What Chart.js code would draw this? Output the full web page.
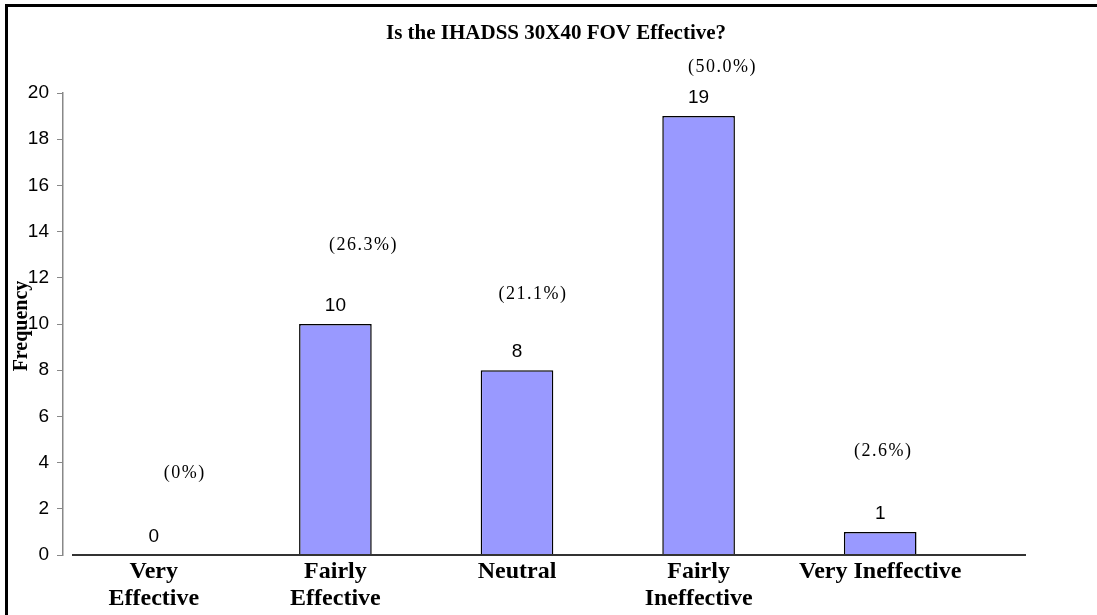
<!DOCTYPE html>
<html>
<head>
<meta charset="utf-8">
<script src="https://cdn.jsdelivr.net/npm/chart.js@4.4.0/dist/chart.umd.min.js"></script>
<style>
  body { margin: 0; background: #fff; }
  canvas { display: block; }
</style>
</head>
<body>
<canvas id="grafico" width="1097" height="615"></canvas>
<script>
const categorias = [["Very", "Effective"], ["Fairly", "Effective"], "Neutral", ["Fairly", "Ineffective"], "Very Ineffective"];
const frequencias = [0, 10, 8, 19, 1];
const percentuais = ["(0%)", "(26.3%)", "(21.1%)", "(50.0%)", "(2.6%)"];
const ticksY = [0, 2, 4, 6, 8, 10, 12, 14, 16, 18, 20];

// onde ficam os rotulos de porcentagem (altura no eixo y, deslocamento em px)
const pctAltura = [3.55, 13.4, 11.3, 21.1, 4.5];
const pctDesloc = [31, 28, 16, 24, 3];

const ctx = document.getElementById("grafico").getContext("2d");

const extras = {
  id: "extras",
  beforeDraw(chart) {
    const c = chart.ctx;
    c.save();
    c.fillStyle = "#fff";
    c.fillRect(0, 0, chart.width, chart.height);
    c.restore();
  },
  afterDraw(chart) {
    const c = chart.ctx;
    const area = chart.chartArea;
    const y = chart.scales.y;
    const meta = chart.getDatasetMeta(0);
    c.save();

    // moldura
    c.fillStyle = "#000";
    c.fillRect(5, 4, chart.width, 3);
    c.fillRect(5, 4, 3, chart.height);

    // eixo x
    c.strokeStyle = "#333";
    c.lineWidth = 2;
    c.beginPath();
    c.moveTo(area.left + 9, area.bottom);
    c.lineTo(area.right + 55, area.bottom);
    c.stroke();

    // titulo
    c.fillStyle = "#000";
    c.font = "bold 21px 'Liberation Serif', 'Times New Roman', serif";
    c.textAlign = "center";
    c.textBaseline = "middle";
    c.fillText("Is the IHADSS 30X40 FOV Effective?", 556, 34);

    // titulo do eixo y
    c.save();
    c.translate(22, 326);
    c.rotate(-Math.PI / 2);
    c.font = "bold 20px 'Liberation Serif', 'Times New Roman', serif";
    c.fillText("Frequency", 0, 0);
    c.restore();

    // valores das barras
    c.font = "19px 'Liberation Sans', Arial, sans-serif";
    c.textBaseline = "bottom";
    meta.data.forEach((bar, i) => {
      c.fillText(String(frequencias[i]), bar.x, bar.y - 9);
    });

    // porcentagens
    c.font = "18px 'Liberation Serif', 'Times New Roman', serif";
    c.letterSpacing = "1.5px";
    c.textBaseline = "middle";
    meta.data.forEach((bar, i) => {
      c.fillText(percentuais[i], bar.x + pctDesloc[i], y.getPixelForValue(pctAltura[i]));
    });
    c.restore();
  }
};

new Chart(ctx, {
  type: "bar",
  data: {
    labels: categorias,
    datasets: [{
      label: "Frequency",
      data: frequencias,
      backgroundColor: "#9999ff",
      borderColor: "#000",
      borderWidth: 1.5,
      barPercentage: 0.4,
      categoryPercentage: 1.0
    }]
  },
  options: {
    responsive: false,
    animation: false,
    layout: { padding: { top: 93, right: 126, bottom: 0, left: 0 } },
    plugins: {
      legend: { display: false },
      title: { display: false },
      tooltip: { enabled: false }
    },
    scales: {
      x: {
        grid: { display: false, drawTicks: false },
        border: { display: false },
        ticks: {
          color: "#000",
          font: { family: "'Liberation Serif', 'Times New Roman', serif", size: 24, weight: "bold", lineHeight: 1.12 },
          padding: 3,
          autoSkip: false,
          maxRotation: 0
        },
        afterFit(scale) { scale.height = 60; }
      },
      y: {
        min: 0,
        max: 20,
        afterBuildTicks(scale) { scale.ticks = ticksY.map(v => ({ value: v })); },
        grid: { drawOnChartArea: false, tickLength: 6, color: "#888" },
        border: { color: "#888", width: 1.5 },
        ticks: {
          color: "#000",
          font: { family: "'Liberation Sans', Arial, sans-serif", size: 19 },
          padding: 8
        },
        afterFit(scale) { scale.width = 63; }
      }
    }
  },
  plugins: [extras]
});
</script>
</body>
</html>
